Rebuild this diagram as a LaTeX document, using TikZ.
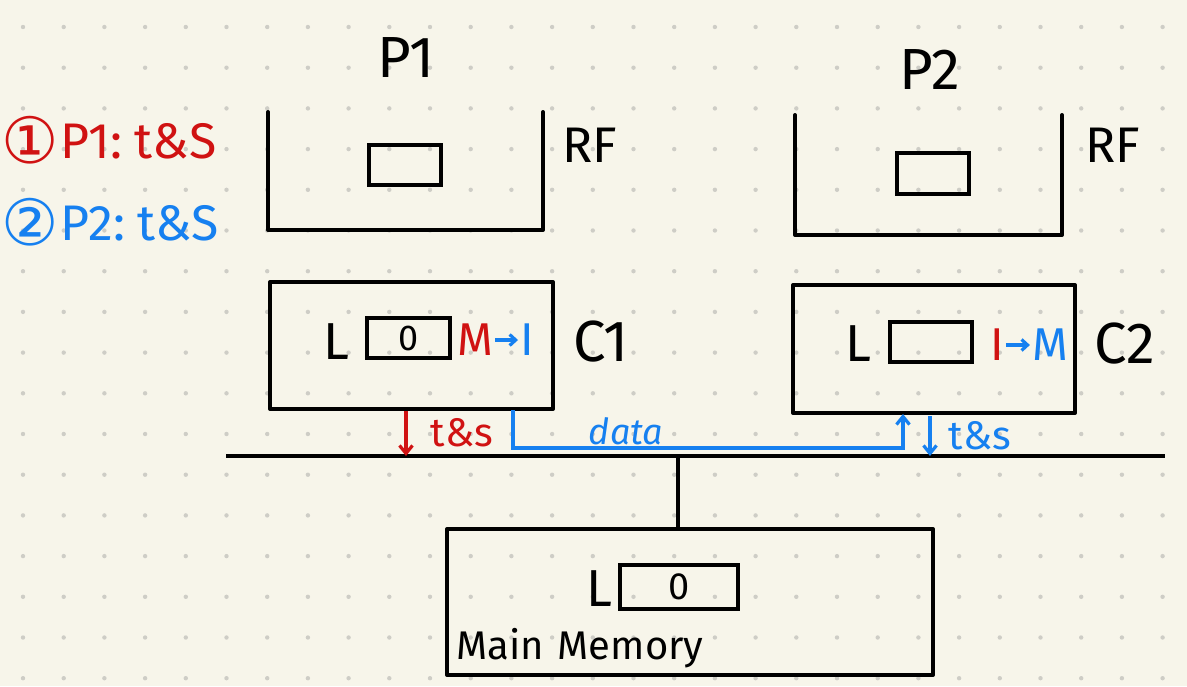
\documentclass[tikz,border=0pt]{standalone}
\usepackage{fontspec}
\setmainfont{Fira Sans}
\newfontfamily\dejavu{DejaVu Sans}
\usetikzlibrary{arrows.meta}
\definecolor{paper}{RGB}{247,245,234}
\definecolor{dotc}{RGB}{206,205,198}
\definecolor{myred}{RGB}{208,18,18}
\definecolor{myblue}{RGB}{22,128,240}
\tikzset{
  ink/.style={line width=4pt, line join=round, line cap=round},
  box/.style={draw, ink, inner sep=0pt, fill=none},
  cell/.style={draw, line width=3.6pt, inner sep=0pt},
  fs/.style={font=\fontsize{#1}{#1}\selectfont, inner sep=0pt},
  redarr/.style={myred, line width=3.2pt, -{Straight Barb[length=8pt,width=13pt]}},
  bluearr/.style={myblue, line width=3.2pt, -{Straight Barb[length=8pt,width=13pt]}},
}
\begin{document}
\begin{tikzpicture}[x=1pt,y=-1pt]
\fill[paper] (0,0) rectangle (1187,686);
\useasboundingbox (0,0) rectangle (1187,686);
\foreach \i in {0,...,28} {
  \foreach \j in {0,...,16} {
    \fill[dotc] ({23+40.7*\i},{27+40.7*\j}) circle (2.2);
  }
}
% legend
\node[fs=50, myred, anchor=west] (leg1) at (1,140) {\raisebox{-5pt}{\dejavu\fontsize{64}{64}\selectfont ①}\hspace{2pt}P1:\hspace{12pt}t\&S};
\node[fs=50, myblue, anchor=west] (leg2) at (1,222) {\raisebox{-5pt}{\dejavu\fontsize{64}{64}\selectfont ②}\hspace{2pt}P2:\hspace{12pt}t\&S};
% processors
\node[fs=58] (p1) at (406,58) {P1};
\node[fs=58] (p2) at (930,70) {P2};
% RF 1
\coordinate (rf1a) at (268,112);
\coordinate (rf1b) at (543,112);
\draw[ink] (rf1a) -- (rf1a |- 0,230) -- (rf1b |- 0,230) -- (rf1b);
\node[cell, minimum width=72, minimum height=40] (r1) at (405,165) {};
\node[fs=50] (rf1) at (590,145) {RF};
% RF 2
\coordinate (rf2a) at (795,115);
\coordinate (rf2b) at (1062,115);
\draw[ink] (rf2a) -- (rf2a |- 0,235) -- (rf2b |- 0,235) -- (rf2b);
\node[cell, minimum width=72, minimum height=41] (r2) at (933,173.5) {};
\node[fs=50] (rf2) at (1113,145) {RF};
% C1
\node[box, minimum width=283, minimum height=127] (c1) at (411.5,345.5) {};
\node[fs=52] (l1) at (336,342) {L};
\node[cell, minimum width=83, minimum height=40] (k1) at (408.5,338) {};
\node[fs=36] (z1) at (k1) {0};
\node[fs=46, myred] (m1) at (475,340) {M};
\node[fs=46, myblue] (i1) at (527,340) {I};
\draw[bluearr, -{Straight Barb[length=6pt,width=11pt]}] (m1.east) ++(2,0) -- ([xshift=-2pt]i1.west);
\node[fs=58] (cc1) at (601,342) {C1};
% C2
\node[box, minimum width=282, minimum height=128] (c2) at (934,349) {};
\node[fs=52] (l2) at (858,344) {L};
\node[cell, minimum width=82, minimum height=40] (k2) at (931,342) {};
\node[fs=46, myred] (i2) at (997,345) {I};
\node[fs=46, myblue] (m2) at (1050,345) {M};
\draw[bluearr, -{Straight Barb[length=6pt,width=11pt]}] ([xshift=2pt]i2.east) -- ([xshift=-2pt]m2.west);
\node[fs=58] (cc2) at (1125,344) {C2};
% bus
\coordinate (busL) at (226,456);
\coordinate (busR) at (1165,456);
\draw[ink, line cap=butt] (busL) -- (busR);
% main memory
\node[box, minimum width=486, minimum height=146] (mm) at (690,602) {};
\coordinate (mmtap) at (678,456);
\draw[ink] (mmtap) -- (mmtap |- mm.north);
\node[fs=52] (l3) at (599,589) {L};
\node[cell, minimum width=118, minimum height=44] (k3) at (679,587) {};
\node[fs=38] (z3) at (k3) {0};
\node[fs=40, anchor=west] (mmt) at (456,648) {Main\hspace{14pt}Memory};
% red t&s from C1
\coordinate (a1) at (406,411);
\draw[redarr] (a1) -- (a1 |- busL);
\node[fs=40, myred] (ts1) at (462,433) {t\&s};
% blue data path
\coordinate (d1) at (513,410);
\coordinate (d2) at (903,414);
\coordinate (dy) at (0,448);
\draw[myblue, line width=3.2pt, line join=miter, -{Straight Barb[length=8pt,width=13pt]}] (d1) -- (d1 |- dy) -- (d2 |- dy) -- (d2);
\node[fs=36, myblue, font=\fontsize{36}{36}\selectfont\itshape] (data) at (626,431) {data};
% blue t&s to bus
\coordinate (a2) at (930,416);
\draw[bluearr] (a2) -- (a2 |- busL);
\node[fs=40, myblue] (ts2) at (980,436) {t\&s};
\end{tikzpicture}
\end{document}
